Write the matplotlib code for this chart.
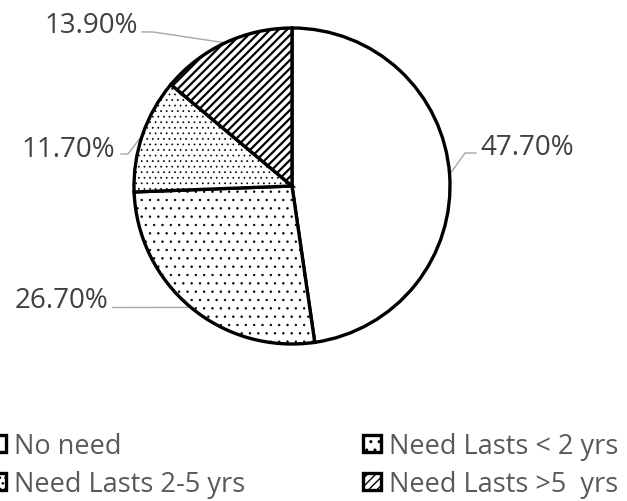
import matplotlib
matplotlib.use("Agg")
import matplotlib.pyplot as plt
import numpy as np
from matplotlib.patches import Patch

categories = ["No need", "Need Lasts < 2 yrs", "Need Lasts 2-5 yrs", "Need Lasts >5  yrs"]
shares = [47.7, 26.7, 11.7, 13.9]
hatches = ["", "..", "...", "////"]

# label text positions (data units of the unit-radius pie) and leader elbows
label_xy = [(1.19, 0.203), (-1.165, -0.766), (-1.12, 0.19), (-0.975, 0.975)]
label_ha = ["left", "right", "right", "right"]
elbow_xy = [[(1.095, 0.209), (1.165, 0.209)],
            [(-1.133, -0.769)],
            [(-1.038, 0.2025), (-1.082, 0.2025)],
            [(-0.88, 0.975), (-0.949, 0.975)]]

plt.rcParams["font.family"] = ["Open Sans", "DejaVu Sans"]
plt.rcParams["hatch.linewidth"] = 1.0

W, H = 627, 502
fig = plt.figure(figsize=(W / 100, H / 100), dpi=100)
fig.patch.set_facecolor("white")

cx, cy, R = 292, 187, 158
ax = fig.add_axes([(cx - R) / W, 1 - (cy + R) / H, 2 * R / W, 2 * R / H])

wedges, _ = ax.pie(
    shares,
    startangle=90,
    counterclock=False,
    radius=1,
    center=(0, 0),
    colors=["white"] * len(shares),
    wedgeprops=dict(edgecolor="black", linewidth=2.4),
    frame=True,
)
ax.set_xlim(-1, 1)
ax.set_ylim(-1, 1)
ax.set_aspect("equal")
ax.axis("off")


def style_hatch(patch, pattern):
    patch.set_hatch(pattern)
    # stripes need a heavier stroke than the dot fills
    if hasattr(patch, "set_hatch_linewidth"):
        patch.set_hatch_linewidth(1.6 if "/" in pattern else 0.5)


for w, h in zip(wedges, hatches):
    style_hatch(w, h)

for w, val, (tx, ty), ha, elbows in zip(wedges, shares, label_xy, label_ha, elbow_xy):
    ang = np.deg2rad((w.theta1 + w.theta2) / 2)
    pts = [(np.cos(ang), np.sin(ang))] + elbows
    xs, ys = zip(*pts)
    ax.plot(xs, ys, color="#a6a6a6", linewidth=1.0, clip_on=False, zorder=0)
    ax.text(tx, ty, f"{val:.2f}%", ha=ha, va="baseline", fontsize=20,
            color="#404040", clip_on=False)

handles = []
for h in hatches:
    p = Patch(facecolor="white", edgecolor="black", linewidth=2.4)
    style_hatch(p, h)
    handles.append(p)

legend_kw = dict(loc="upper left", frameon=False, borderpad=0, borderaxespad=0,
                 fontsize=19.5, labelcolor="#595959", handlelength=0.66,
                 handleheight=0.62, handletextpad=0.3, labelspacing=0.36)
fig.legend([handles[0], handles[2]], [categories[0], categories[2]],
           bbox_to_anchor=(-0.019, 0.137), **legend_kw)
fig.legend([handles[1], handles[3]], [categories[1], categories[3]],
           bbox_to_anchor=(0.579, 0.137), **legend_kw)

fig.savefig("out.png", dpi=100, facecolor="white")
plt.close(fig)
